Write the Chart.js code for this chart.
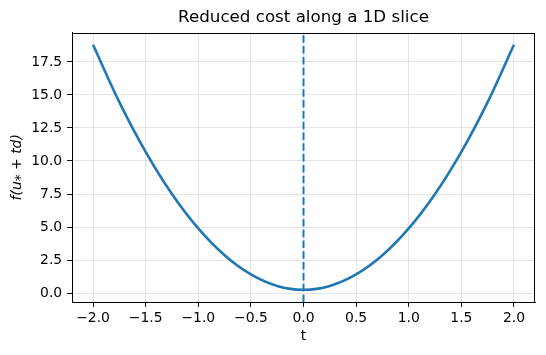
<!DOCTYPE html>
<html>
<head>
<meta charset="utf-8">
<script src="https://cdn.jsdelivr.net/npm/chart.js@4/dist/chart.umd.min.js"></script>
<style>
  html, body { margin: 0; padding: 0; background: #fff; }
  canvas { display: block; }
</style>
</head>
<body>
<canvas id="c" width="546" height="355"></canvas>
<script>
// ---- data ----
const tValues = [-2.0, -1.75, -1.5, -1.25, -1.0, -0.75, -0.5, -0.25, 0.0, 0.25, 0.5, 0.75, 1.0, 1.25, 1.5, 1.75, 2.0];
const fValues = [18.8, 14.46, 10.69, 7.5, 4.89, 2.86, 1.41, 0.54, 0.25, 0.54, 1.41, 2.86, 4.89, 7.5, 10.69, 14.46, 18.8];
const markerT = 0.0;               // dashed vertical line position
const xTicks = [-2.0, -1.5, -1.0, -0.5, 0.0, 0.5, 1.0, 1.5, 2.0];
const yTicks = [0.0, 2.5, 5.0, 7.5, 10.0, 12.5, 15.0, 17.5];
const xRange = [-2.2, 2.2];
const yRange = [-0.68, 19.73];
const titleText = 'Reduced cost along a 1D slice';
const xLabel = 't';
const yLabel = 'f(u\u204E + td)';

const BLUE = '#1f77b4';
const FONT = "'DejaVu Sans', sans-serif";
const fmt = v => (v < 0 ? '\u2212' : '') + Math.abs(v).toFixed(1);

const boxPlugin = {
  id: 'box',
  afterDraw(chart) {
    const {ctx, chartArea: a} = chart;
    ctx.save();
    ctx.strokeStyle = '#000';
    ctx.lineWidth = 1;
    ctx.strokeRect(Math.round(a.left) + 0.5, Math.round(a.top) + 0.5,
                   Math.round(a.right - a.left) - 1, Math.round(a.bottom - a.top));
    ctx.restore();
  }
};

new Chart(document.getElementById('c'), {
  type: 'line',
  data: {
    datasets: [
      {
        data: tValues.map((t, i) => ({x: t, y: fValues[i]})),
        borderColor: BLUE,
        borderWidth: 2.6,
        pointRadius: 0,
        cubicInterpolationMode: 'monotone',
        fill: false
      },
      {
        data: [{x: markerT, y: yRange[0]}, {x: markerT, y: yRange[1]}],
        borderColor: BLUE,
        borderWidth: 2,
        borderDash: [7.5, 3.3],
        pointRadius: 0,
        fill: false
      }
    ]
  },
  options: {
    responsive: false,
    animation: false,
    devicePixelRatio: 1,
    layout: { padding: { left: 0, right: 11, top: 0, bottom: 0 } },
    plugins: {
      legend: { display: false },
      tooltip: { enabled: false },
      title: {
        display: true,
        text: titleText,
        fullSize: false,
        color: '#000',
        font: { family: FONT, size: 16.7, weight: 'normal', lineHeight: 1.2 },
        padding: { top: 8, bottom: 4.5 }
      }
    },
    scales: {
      x: {
        type: 'linear',
        min: xRange[0], max: xRange[1],
        afterFit(s) { s.height = 53; },
        afterBuildTicks(s) { s.ticks = xTicks.map(v => ({value: v})); },
        grid: { color: '#e4e4e4', lineWidth: 1, tickColor: '#000', tickLength: 4.9, tickWidth: 1 },
        border: { display: true, color: '#000', width: 1 },
        ticks: { color: '#000', padding: 3.5, font: { family: FONT, size: 13.9 }, callback: v => fmt(v), maxRotation: 0, autoSkip: false },
        title: { display: true, text: xLabel, color: '#000', font: { family: FONT, size: 13.9 }, padding: { top: 4, bottom: 10 } }
      },
      y: {
        type: 'linear',
        min: yRange[0], max: yRange[1],
        afterFit(s) { s.width = 72; },
        afterBuildTicks(s) { s.ticks = yTicks.map(v => ({value: v})); },
        grid: { color: '#e4e4e4', lineWidth: 1, tickColor: '#000', tickLength: 4.9, tickWidth: 1 },
        border: { display: true, color: '#000', width: 1 },
        ticks: { color: '#000', padding: 4.9, font: { family: FONT, size: 13.9 }, callback: v => fmt(v), autoSkip: false },
        title: { display: true, text: yLabel, color: '#000', font: { family: FONT, size: 13.9, style: 'italic' }, padding: { top: 9.5, bottom: 4 } }
      }
    }
  },
  plugins: [boxPlugin]
});
</script>
</body>
</html>
